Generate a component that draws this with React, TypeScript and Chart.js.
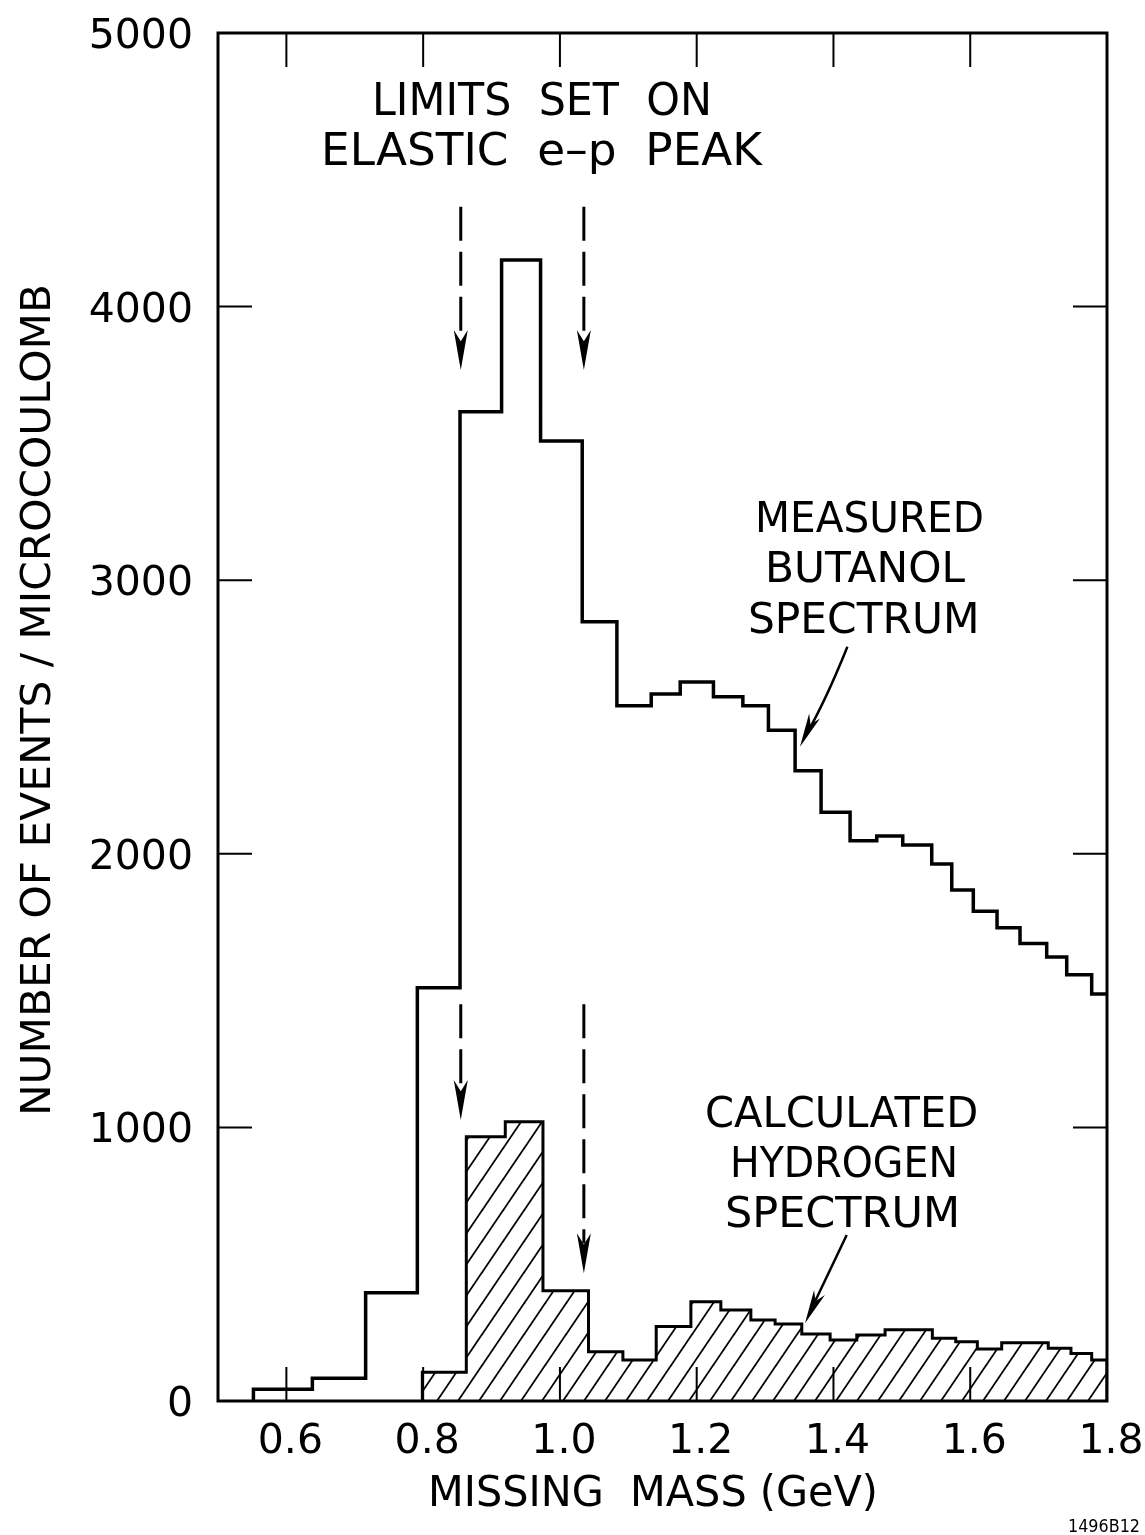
import React, { useEffect, useRef } from 'react';
import { Chart, registerables } from 'chart.js';

Chart.register(...registerables);

// ---- data ----
// bin edges (GeV) and heights (events / microcoulomb)
const butanolEdges = [
  0.5518, 0.638, 0.7159, 0.7915, 0.8539, 0.9147, 0.9717, 1.0326, 1.0833, 1.1335,
  1.1759, 1.2245, 1.2675, 1.3049, 1.3439, 1.3819, 1.4243, 1.4633, 1.5013, 1.5437,
  1.573, 1.6045, 1.6392, 1.6728, 1.7118, 1.7411, 1.7776, 1.8,
];
const butanolCounts = [
  43, 83, 396, 1510, 3616, 4170, 3509, 2848, 2541, 2584,
  2628, 2574, 2541, 2452, 2304, 2152, 2048, 2065, 2032, 1963,
  1868, 1790, 1730, 1672, 1623, 1558, 1488,
];
const hydrogenEdges = [
  0.7988, 0.8631, 0.9201, 0.9752, 1.0418, 1.0921, 1.1408, 1.1915, 1.2353, 1.2792,
  1.3147, 1.3537, 1.3951, 1.4341, 1.4755, 1.5446, 1.5788, 1.6104, 1.646, 1.7141,
  1.7473, 1.7776, 1.8,
];
const hydrogenCounts = [
  105, 966, 1021, 403, 180, 150, 272, 363, 333, 296,
  281, 245, 223, 241, 260, 229, 217, 190, 213, 193,
  174, 150,
];
const xTicks = [0.6, 0.8, 1.0, 1.2, 1.4, 1.6, 1.8];
const xTickLabels = ['0.6', '0.8', '1.0', '1.2', '1.4', '1.6', '1.8'];
const yTicks = [0, 1000, 2000, 3000, 4000, 5000];
const yTickLabels = ['0', '1000', '2000', '3000', '4000', '5000'];
// elastic-peak limits (GeV) marked by dashed arrows
const limitMasses = [0.855, 1.035];

const FONT = '"DejaVu Sans", "Liberation Sans", sans-serif';

function histPoints(edges: number[], counts: number[], closeRight: boolean) {
  const pts: { x: number; y: number }[] = [{ x: edges[0], y: 0 }];
  counts.forEach((c, i) => pts.push({ x: edges[i], y: c }));
  pts.push({ x: edges[edges.length - 1], y: counts[counts.length - 1] });
  if (closeRight) pts.push({ x: edges[edges.length - 1], y: 0 });
  return pts;
}

function makeHatch(): CanvasPattern | string {
  const w = 21;
  const h = 31;
  const c = document.createElement('canvas');
  c.width = w;
  c.height = h;
  const g = c.getContext('2d');
  if (!g) return '#000';
  g.strokeStyle = '#000';
  g.lineWidth = 1.8;
  for (const off of [-w, 0, w]) {
    g.beginPath();
    g.moveTo(off - w, 2 * h);
    g.lineTo(off + 2 * w, -h);
    g.stroke();
  }
  const p = g.createPattern(c, 'repeat');
  return p || '#000';
}

function drawText(
  ctx: CanvasRenderingContext2D,
  text: string,
  x: number,
  baseline: number,
  size: number,
  width?: number,
  align: CanvasTextAlign = 'center'
) {
  ctx.save();
  ctx.font = `${size}px ${FONT}`;
  ctx.textBaseline = 'alphabetic';
  ctx.textAlign = align;
  ctx.fillStyle = '#000';
  const m = ctx.measureText(text).width;
  const sx = width ? width / m : 1;
  ctx.translate(x, baseline);
  ctx.scale(sx, 1);
  ctx.fillText(text, 0, 0);
  ctx.restore();
}

function arrowHead(ctx: CanvasRenderingContext2D, fx: number, fy: number, tx: number, ty: number, len: number, half: number) {
  const a = Math.atan2(ty - fy, tx - fx);
  const ux = Math.cos(a);
  const uy = Math.sin(a);
  const bx = tx - ux * len;
  const by = ty - uy * len;
  const nx = -uy;
  const ny = ux;
  ctx.beginPath();
  ctx.moveTo(tx, ty);
  ctx.lineTo(bx + nx * half, by + ny * half);
  ctx.lineTo(tx - ux * len * 0.72, ty - uy * len * 0.72);
  ctx.lineTo(bx - nx * half, by - ny * half);
  ctx.closePath();
  ctx.fill();
}

const overlay = {
  id: 'overlay',
  afterDraw(chart: any) {
    const { ctx, chartArea: a, scales } = chart;
    const xs = scales.x;
    const ys = scales.y;
    ctx.save();
    ctx.strokeStyle = '#000';
    ctx.fillStyle = '#000';
    // frame
    ctx.lineWidth = 3;
    ctx.strokeRect(a.left, a.top, a.right - a.left, a.bottom - a.top);
    // inner ticks
    ctx.lineWidth = 2;
    const TL = 34;
    xTicks.forEach((v) => {
      const px = xs.getPixelForValue(v);
      if (px > a.left + 2 && px < a.right - 2) {
        ctx.beginPath();
        ctx.moveTo(px, a.bottom);
        ctx.lineTo(px, a.bottom - TL);
        ctx.moveTo(px, a.top);
        ctx.lineTo(px, a.top + TL);
        ctx.stroke();
      }
    });
    yTicks.forEach((v) => {
      const py = ys.getPixelForValue(v);
      if (py > a.top + 2 && py < a.bottom - 2) {
        ctx.beginPath();
        ctx.moveTo(a.left, py);
        ctx.lineTo(a.left + TL, py);
        ctx.moveTo(a.right, py);
        ctx.lineTo(a.right - TL, py);
        ctx.stroke();
      }
    });
    // tick labels
    xTicks.forEach((v, i) => {
      drawText(ctx, xTickLabels[i], xs.getPixelForValue(v) + 4, a.bottom + 52, 41);
    });
    yTicks.forEach((v, i) => {
      drawText(ctx, yTickLabels[i], 193, ys.getPixelForValue(v) + 15, 41, undefined, 'right');
    });
    // axis titles
    drawText(ctx, 'MISSING  MASS (GeV)', 653, 1506, 43, 450);
    ctx.save();
    ctx.translate(50, 700);
    ctx.rotate(-Math.PI / 2);
    drawText(ctx, 'NUMBER OF EVENTS / MICROCOULOMB', 0, 0, 41, 832);
    ctx.restore();
    drawText(ctx, '1496B12', 1104, 1532, 17, 72);

    // annotations
    drawText(ctx, 'LIMITS  SET  ON', 542, 115, 44, 340);
    drawText(ctx, 'ELASTIC  e\u2013p  PEAK', 541.5, 165, 44, 441);
    drawText(ctx, 'MEASURED', 869.5, 531.7, 43.5, 229);
    drawText(ctx, 'BUTANOL', 865, 581.7, 43.5, 200);
    drawText(ctx, 'SPECTRUM', 863.7, 633.3, 43.5, 231.5);
    drawText(ctx, 'CALCULATED', 841.7, 1126.7, 43.5, 273.3);
    drawText(ctx, 'HYDROGEN', 844, 1176.7, 43.5, 228);
    drawText(ctx, 'SPECTRUM', 842.5, 1226.7, 43.5, 235);

    // dashed limit arrows
    const drawDashed = (m: number, fromV: number, toV: number) => {
      const px = xs.getPixelForValue(m);
      const y1 = ys.getPixelForValue(fromV);
      const y2 = ys.getPixelForValue(toV);
      ctx.save();
      ctx.lineWidth = 3;
      ctx.setLineDash([34, 11]);
      ctx.beginPath();
      ctx.moveTo(px, y1);
      ctx.lineTo(px, y2 - 30);
      ctx.stroke();
      ctx.restore();
      arrowHead(ctx, px, y1, px, y2, 40, 7);
    };
    drawDashed(limitMasses[0], 4365, 3768);
    drawDashed(limitMasses[1], 4365, 3768);
    drawDashed(limitMasses[0], 1450, 1027);
    drawDashed(limitMasses[1], 1450, 467);

    // label arrows
    ctx.lineWidth = 2.5;
    ctx.beginPath();
    ctx.moveTo(847.4, 646.7);
    ctx.quadraticCurveTo(826, 700, 806, 735);
    ctx.stroke();
    arrowHead(ctx, 847.4, 646.7, 800, 746.7, 34, 6);
    ctx.beginPath();
    ctx.moveTo(846.7, 1235);
    ctx.lineTo(810, 1312);
    ctx.stroke();
    arrowHead(ctx, 846.7, 1235, 805, 1323.3, 34, 6);
    ctx.restore();
  },
};

export default function App() {
  const ref = useRef<HTMLCanvasElement | null>(null);
  useEffect(() => {
    if (!ref.current) return;
    const hatch = makeHatch();
    const chart = new Chart(ref.current, {
      type: 'line',
      data: {
        datasets: [
          {
            label: 'Calculated hydrogen spectrum',
            data: histPoints(hydrogenEdges, hydrogenCounts, true),
            stepped: 'before',
            borderColor: '#000',
            borderWidth: 3,
            backgroundColor: hatch as any,
            fill: 'origin',
            pointRadius: 0,
            tension: 0,
          },
          {
            label: 'Measured butanol spectrum',
            data: histPoints(butanolEdges, butanolCounts, false),
            stepped: 'before',
            borderColor: '#000',
            borderWidth: 3.5,
            fill: false,
            pointRadius: 0,
            tension: 0,
          },
        ],
      },
      options: {
        responsive: false,
        animation: false,
        layout: { padding: { left: 218, top: 33, right: 38, bottom: 134 } },
        plugins: { legend: { display: false }, tooltip: { enabled: false }, title: { display: false } },
        scales: {
          x: { type: 'linear', min: 0.5, max: 1.8, display: false },
          y: { type: 'linear', min: 0, max: 5000, display: false },
        },
      },
      plugins: [overlay],
    });
    return () => chart.destroy();
  }, []);
  return (
    <div style={{ position: 'absolute', left: 0, top: 0, width: 1145, height: 1535, background: '#fff' }}>
      <canvas ref={ref} width={1145} height={1535} style={{ width: 1145, height: 1535, display: 'block' }} />
    </div>
  );
}
